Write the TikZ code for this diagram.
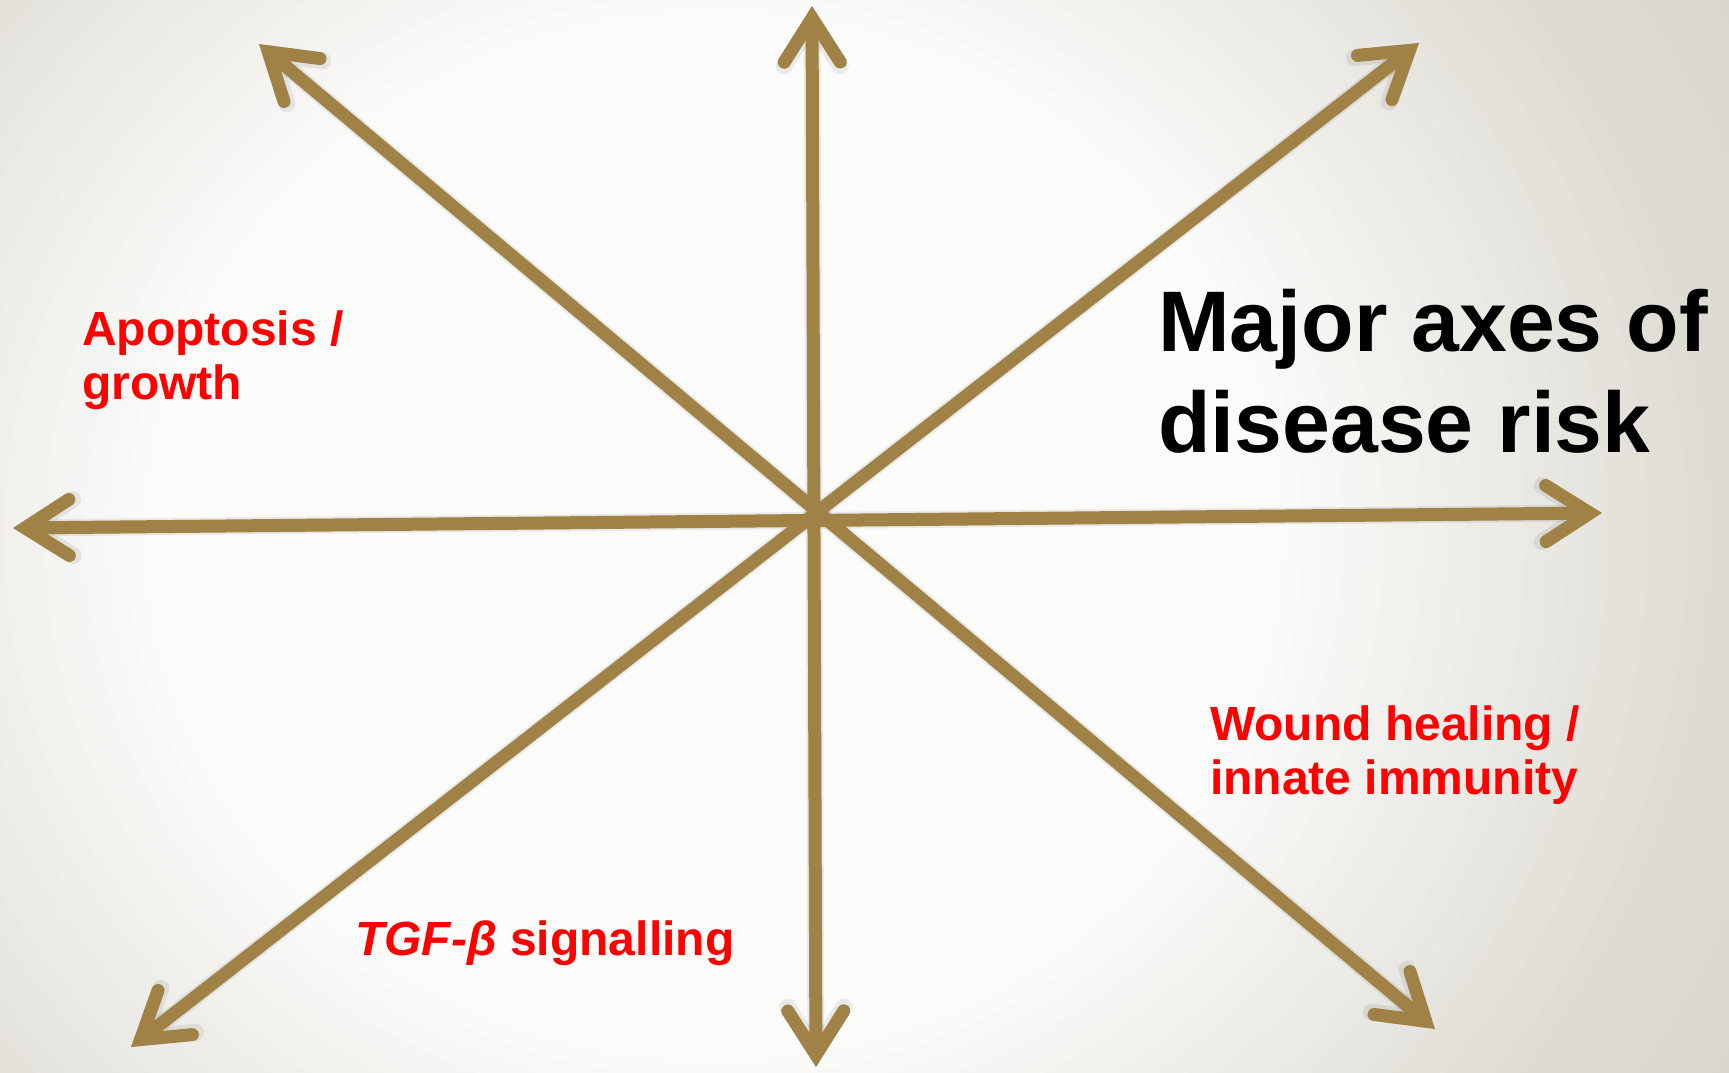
\documentclass[tikz,border=0pt]{standalone}
\usepackage{fontspec}
\setmainfont{Liberation Sans}
\usetikzlibrary{arrows.meta}
\definecolor{axcol}{RGB}{160,130,70}
\definecolor{bgin}{RGB}{251,251,250}
\definecolor{bgmid}{RGB}{222,219,211}
\definecolor{bgout}{RGB}{208,204,194}
\definecolor{lblred}{RGB}{255,0,0}
\tikzset{
  barb/.tip={Straight Barb[length=44pt, width=56pt, line cap=round, line join=miter]},
  axis/.style={draw=axcol, line width=13pt, barb-barb},
  axshadow/.style={draw=black, draw opacity=0.07, line width=17pt, barb-barb, shift={(2pt,-4pt)}},
  redlbl/.style={text=lblred, font=\bfseries\fontsize{48}{54}\selectfont, align=left, inner sep=0pt, anchor=base west},
  title/.style={text=black, font=\bfseries\fontsize{86}{101}\selectfont, align=left, inner sep=0pt, anchor=base west}
}
\begin{document}
\begin{tikzpicture}[x=1pt, y=-1pt]
\useasboundingbox (0,0) rectangle (1729,1072);
\begin{scope}
\clip (0,0) rectangle (1729,1072);
\fill[bgout] (0,0) rectangle (1729,1072);
\foreach \k in {0,...,47}{
  \pgfmathsetmacro{\rr}{1.5-0.02*\k}
  \pgfmathsetmacro{\mixp}{\rr>1 ? 100*(\rr-1)/0.5 : 100*(\rr-0.56)/0.44}
  \ifdim\rr pt>1pt
    \fill[color=bgout!\mixp!bgmid] (714,536) ellipse [x radius={\rr*1015pt}, y radius={\rr*936pt}];
  \else
    \fill[color=bgmid!\mixp!bgin] (714,536) ellipse [x radius={\rr*1015pt}, y radius={\rr*936pt}];
  \fi
}
\end{scope}
% tips
\coordinate (L) at (13,528);
\coordinate (R) at (1602,513);
\coordinate (U) at (812,6);
\coordinate (D) at (816,1067);
\coordinate (UL) at (259,44);
\coordinate (LR) at (1435,1029);
\coordinate (UR) at (1419,43);
\coordinate (LL) at (131,1047);
% shadows
\draw[axshadow] (L) -- (R);
\draw[axshadow] (U) -- (D);
\draw[axshadow] (UL) -- (LR);
\draw[axshadow] (UR) -- (LL);
% axes
\draw[axis] (L) -- (R);
\draw[axis] (U) -- (D);
\draw[axis] (UL) -- (LR);
\draw[axis] (UR) -- (LL);
% labels
\node[title] (ttl) at (1158,452) {Major axes of\\disease risk};
\node[redlbl] (apo) at (82,399) {Apoptosis /\\growth};
\node[redlbl] (wnd) at (1210,794) {Wound healing /\\innate immunity};
\node[redlbl] (tgf) at (355,955) {\textit{TGF-β} signalling};
\end{tikzpicture}
\end{document}
